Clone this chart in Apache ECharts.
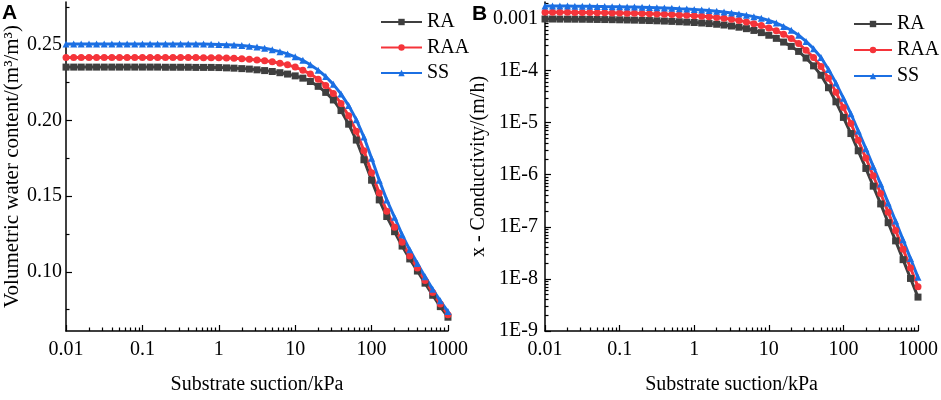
<!DOCTYPE html>
<html>
<head>
<meta charset="utf-8">
<script src="https://cdn.jsdelivr.net/npm/echarts@6/dist/echarts.min.js"></script>
<style>
  html, body { margin: 0; padding: 0; background: #fff; }
  #chart { width: 941px; height: 400px; }
</style>
</head>
<body>
<div id="chart"></div>
<script>
// suction values (kPa), 10 points per decade
const suction = [0.01, 0.0126, 0.0158, 0.02, 0.0251, 0.0316, 0.0398, 0.0501, 0.0631, 0.0794,
  0.1, 0.126, 0.158, 0.2, 0.251, 0.316, 0.398, 0.501, 0.631, 0.794,
  1, 1.26, 1.58, 2, 2.51, 3.16, 3.98, 5.01, 6.31, 7.94,
  10, 12.6, 15.8, 20, 25.1, 31.6, 39.8, 50.1, 63.1, 79.4,
  100, 126, 158, 200, 251, 316, 398, 501, 631, 794, 1000];

// panel A : volumetric water content
const raWater = [0.2352, 0.2352, 0.2352, 0.2352, 0.2352, 0.2352, 0.2352, 0.2352, 0.2352, 0.2352,
  0.2352, 0.2352, 0.2352, 0.2351, 0.2351, 0.2351, 0.2351, 0.2350, 0.2350, 0.2350,
  0.2349, 0.2347, 0.2345, 0.2342, 0.2339, 0.2334, 0.2329, 0.2323, 0.2315, 0.2306,
  0.2294, 0.2279, 0.2257, 0.2225, 0.2185, 0.2135, 0.2065, 0.1975, 0.1870, 0.1740,
  0.1605, 0.1475, 0.1365, 0.1265, 0.1170, 0.1085, 0.1005, 0.0925, 0.0845, 0.0770, 0.0700];
const raaWater = [0.2415, 0.2415, 0.2415, 0.2415, 0.2415, 0.2415, 0.2415, 0.2415, 0.2415, 0.2415,
  0.2415, 0.2415, 0.2415, 0.2415, 0.2415, 0.2415, 0.2415, 0.2415, 0.2414, 0.2414,
  0.2413, 0.2412, 0.2410, 0.2407, 0.2404, 0.2399, 0.2394, 0.2387, 0.2378, 0.2367,
  0.2352, 0.2332, 0.2306, 0.2272, 0.2230, 0.2178, 0.2112, 0.2030, 0.1928, 0.1800,
  0.1655, 0.1520, 0.1400, 0.1295, 0.1195, 0.1105, 0.1025, 0.0943, 0.0864, 0.0788, 0.0717];
const ssWater = [0.2505, 0.2505, 0.2505, 0.2505, 0.2505, 0.2505, 0.2505, 0.2505, 0.2505, 0.2505,
  0.2505, 0.2505, 0.2505, 0.2505, 0.2505, 0.2505, 0.2505, 0.2505, 0.2504, 0.2503,
  0.2502, 0.2500, 0.2498, 0.2494, 0.2490, 0.2484, 0.2476, 0.2466, 0.2454, 0.2439,
  0.2420, 0.2397, 0.2368, 0.2332, 0.2290, 0.2238, 0.2175, 0.2098, 0.2005, 0.1890,
  0.1750, 0.1605, 0.1475, 0.1360, 0.1245, 0.1145, 0.1055, 0.0968, 0.0885, 0.0808, 0.0737];

// panel B : conductivity (m/h)
const raCond = [9.77e-4, 9.75e-4, 9.72e-4, 9.70e-4, 9.68e-4, 9.66e-4, 9.62e-4, 9.57e-4, 9.53e-4, 9.48e-4,
  9.42e-4, 9.35e-4, 9.29e-4, 9.20e-4, 9.12e-4, 9.02e-4, 8.91e-4, 8.79e-4, 8.65e-4, 8.51e-4,
  8.36e-4, 8.18e-4, 7.98e-4, 7.74e-4, 7.48e-4, 7.16e-4, 6.79e-4, 6.37e-4, 5.89e-4, 5.35e-4,
  4.76e-4, 4.15e-4, 3.52e-4, 2.91e-4, 2.33e-4, 1.74e-4, 1.23e-4, 8.13e-5, 4.68e-5, 2.51e-5,
  1.26e-5, 6.17e-6, 2.88e-6, 1.32e-6, 6.03e-7, 2.75e-7, 1.20e-7, 5.37e-8, 2.34e-8, 1.02e-8, 4.47e-9];
const raaCond = [1.318e-3, 1.315e-3, 1.312e-3, 1.309e-3, 1.306e-3, 1.303e-3, 1.297e-3, 1.291e-3, 1.285e-3, 1.279e-3,
  1.271e-3, 1.262e-3, 1.253e-3, 1.242e-3, 1.230e-3, 1.216e-3, 1.202e-3, 1.186e-3, 1.167e-3, 1.148e-3,
  1.127e-3, 1.104e-3, 1.076e-3, 1.045e-3, 1.009e-3, 9.66e-4, 9.16e-4, 8.59e-4, 7.94e-4, 7.29e-4,
  6.58e-4, 5.79e-4, 4.98e-4, 4.11e-4, 3.30e-4, 2.45e-4, 1.78e-4, 1.20e-4, 7.08e-5, 3.85e-5,
  1.95e-5, 9.66e-6, 4.57e-6, 2.09e-6, 9.55e-7, 4.37e-7, 1.91e-7, 8.51e-8, 3.72e-8, 1.62e-8, 7.08e-9];
const ssCond = [1.738e-3, 1.734e-3, 1.730e-3, 1.726e-3, 1.722e-3, 1.718e-3, 1.710e-3, 1.702e-3, 1.694e-3, 1.687e-3,
  1.675e-3, 1.663e-3, 1.652e-3, 1.637e-3, 1.622e-3, 1.603e-3, 1.585e-3, 1.563e-3, 1.538e-3, 1.514e-3,
  1.486e-3, 1.455e-3, 1.419e-3, 1.377e-3, 1.330e-3, 1.279e-3, 1.222e-3, 1.153e-3, 1.084e-3, 1.007e-3,
  9.18e-4, 8.18e-4, 7.03e-4, 5.94e-4, 4.76e-4, 3.63e-4, 2.63e-4, 1.78e-4, 1.047e-4, 5.75e-5,
  2.95e-5, 1.48e-5, 6.92e-6, 3.16e-6, 1.445e-6, 6.61e-7, 2.88e-7, 1.288e-7, 5.62e-8, 2.45e-8, 1.07e-8];

// ticks
const xMajor = [0.01, 0.1, 1, 10, 100, 1000];
const xMinor = [0.02, 0.03, 0.04, 0.05, 0.06, 0.07, 0.08, 0.09,
  0.2, 0.3, 0.4, 0.5, 0.6, 0.7, 0.8, 0.9,
  2, 3, 4, 5, 6, 7, 8, 9,
  20, 30, 40, 50, 60, 70, 80, 90,
  200, 300, 400, 500, 600, 700, 800, 900];
const waterMajor = [0.10, 0.15, 0.20, 0.25];
const waterMinor = [0.075, 0.125, 0.175, 0.225, 0.275];
const condMajor = [1e-9, 1e-8, 1e-7, 1e-6, 1e-5, 1e-4, 1e-3];
const condLabels = ["1E-9", "1E-8", "1E-7", "1E-6", "1E-5", "1E-4", "0.001"];

const condMinor = [];
condMajor.forEach((d) => {
  for (let m = 2; m <= 9; m++) {
    const v = +(d * m).toPrecision(3);
    if (v < 2.07e-3) condMinor.push(v);
  }
});

const FONT = "Liberation Serif";
const colors = { RA: "#3f3f3f", RAA: "#f5343a", SS: "#1b6fe3" };
const symbols = { RA: "rect", RAA: "circle", SS: "triangle" };

const pairs = (ys) => suction.map((x, i) => [x, ys[i]]);

const lineSeries = (name, ys, axisIdx) => ({
  name: name,
  type: "line",
  xAxisIndex: axisIdx,
  yAxisIndex: axisIdx,
  data: pairs(ys),
  symbol: symbols[name],
  symbolSize: 7,
  showAllSymbol: true,
  lineStyle: { color: colors[name], width: 3 },
  itemStyle: { color: colors[name] },
});

const xAxisBase = (gridIndex) => ({
  type: "log",
  gridIndex: gridIndex,
  position: "bottom",
  min: 0.00999,
  max: 1001,
  splitLine: { show: false },
  axisLine: { show: true, lineStyle: { color: "#000", width: 1.5 } },
  axisTick: {
    show: true,
    inside: true,
    length: 6,
    customValues: xMajor,
    lineStyle: { color: "#000", width: 1.2 },
  },
  axisLabel: {
    customValues: xMajor,
    margin: 9,
    fontFamily: FONT,
    fontSize: 20,
    color: "#000",
    formatter: (v) => String(+(+v).toPrecision(3)),
  },
  name: "Substrate suction/kPa",
  nameLocation: "middle",
  nameGap: 44,
  nameTextStyle: { fontFamily: FONT, fontSize: 20, color: "#000" },
});

const xMinorAxis = (gridIndex) => ({
  type: "log",
  gridIndex: gridIndex,
  position: "bottom",
  min: 0.00999,
  max: 1001,
  splitLine: { show: false },
  axisLine: { show: false },
  axisLabel: { show: false },
  axisTick: {
    show: true,
    inside: true,
    length: 3.5,
    customValues: xMinor,
    lineStyle: { color: "#000", width: 1.2 },
  },
});

const chart = echarts.init(document.getElementById("chart"));

const option = {
  animation: false,
  backgroundColor: "#fff",
  grid: [
    { left: 66, right: 493, top: 2, bottom: 60 },
    { left: 545, right: 19, top: 2, bottom: 60 },
  ],
  graphic: [
    {
      type: "text",
      left: 2,
      top: 3,
      style: { text: "A", font: "bold 21px 'Liberation Sans'", fill: "#000" },
    },
    {
      type: "text",
      left: 472,
      top: 4,
      style: { text: "B", font: "bold 21px 'Liberation Sans'", fill: "#000" },
    },
  ],
  legend: [
    {
      orient: "vertical",
      left: 375,
      top: 7,
      itemWidth: 41,
      itemHeight: 8,
      itemGap: 5.5,
      data: ["RA", "RAA", "SS"],
      textStyle: { fontFamily: FONT, fontSize: 20, color: "#000", lineHeight: 20 },
    },
    {
      orient: "vertical",
      left: 848,
      top: 9,
      itemWidth: 38,
      itemHeight: 8,
      itemGap: 6,
      data: ["RA", "RAA", "SS"],
      textStyle: { fontFamily: FONT, fontSize: 20, color: "#000", lineHeight: 20 },
    },
  ],
  xAxis: [xAxisBase(0), xAxisBase(1), xMinorAxis(0), xMinorAxis(1)],
  yAxis: [
    {
      type: "value",
      gridIndex: 0,
      position: "left",
      min: 0.0609,
      max: 0.2782,
      splitLine: { show: false },
      axisLine: { show: true, lineStyle: { color: "#000", width: 1.5 } },
      axisTick: {
        show: true,
        inside: true,
        length: 6,
        customValues: waterMajor,
        lineStyle: { color: "#000", width: 1.2 },
      },
      axisLabel: {
        customValues: waterMajor,
        margin: 4,
        fontFamily: FONT,
        fontSize: 20,
        color: "#000",
        formatter: (v) => (+v).toFixed(2),
      },
      name: "Volumetric water content/(m³/m³)",
      nameLocation: "middle",
      nameGap: 43,
      nameTextStyle: { fontFamily: FONT, fontSize: 21, color: "#000" },
    },
    {
      type: "log",
      gridIndex: 1,
      position: "left",
      min: 0.999e-9,
      max: 2.07e-3,
      splitLine: { show: false },
      axisLine: { show: true, lineStyle: { color: "#000", width: 1.5 } },
      axisTick: {
        show: true,
        inside: true,
        length: 6,
        customValues: condMajor,
        lineStyle: { color: "#000", width: 1.2 },
      },
      axisLabel: {
        customValues: condMajor,
        margin: 7,
        fontFamily: FONT,
        fontSize: 20,
        color: "#000",
        formatter: (v) => {
          const i = Math.round(Math.log10(v)) + 9;
          return condLabels[i] || "";
        },
      },
      name: "x - Conductivity/(m/h)",
      nameLocation: "middle",
      nameGap: 48,
      nameTextStyle: { fontFamily: FONT, fontSize: 20, color: "#000" },
    },
    {
      type: "value",
      gridIndex: 0,
      position: "left",
      min: 0.0609,
      max: 0.2782,
      splitLine: { show: false },
      axisLine: { show: false },
      axisLabel: { show: false },
      axisTick: {
        show: true,
        inside: true,
        length: 3.5,
        customValues: waterMinor,
        lineStyle: { color: "#000", width: 1.2 },
      },
    },
    {
      type: "log",
      gridIndex: 1,
      position: "left",
      min: 0.999e-9,
      max: 2.07e-3,
      splitLine: { show: false },
      axisLine: { show: false },
      axisLabel: { show: false },
      axisTick: {
        show: true,
        inside: true,
        length: 3.5,
        customValues: condMinor,
        lineStyle: { color: "#000", width: 1.2 },
      },
    },
  ],
  series: [
    lineSeries("RA", raWater, 0),
    lineSeries("RAA", raaWater, 0),
    lineSeries("SS", ssWater, 0),
    lineSeries("RA", raCond, 1),
    lineSeries("RAA", raaCond, 1),
    lineSeries("SS", ssCond, 1),
  ],
};

chart.setOption(option);
</script>
</body>
</html>
